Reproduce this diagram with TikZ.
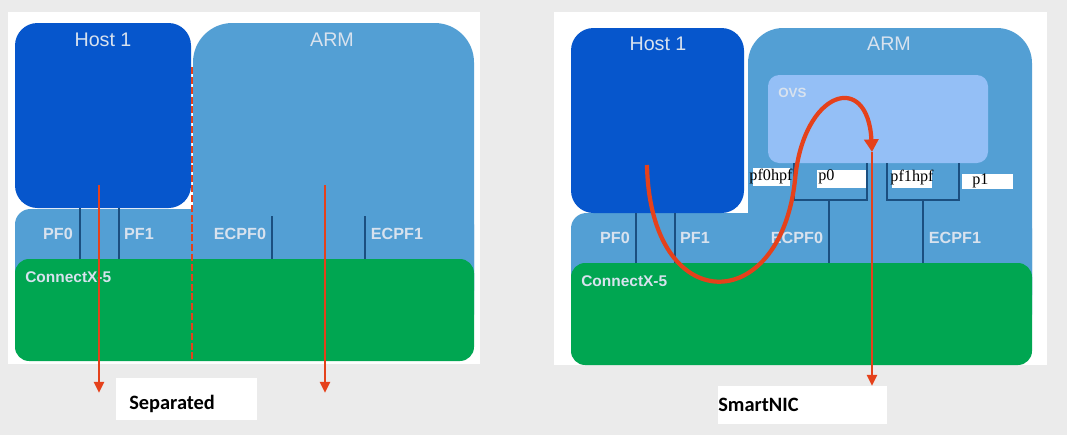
\documentclass[tikz,border=0pt]{standalone}
\usepackage{fontspec}
\setmainfont{Liberation Sans}
\newfontfamily\tagfont{Liberation Serif}
\newfontfamily\capfont{Carlito}
\usetikzlibrary{arrows.meta}

\definecolor{bggray}{HTML}{EBEBEB}
\definecolor{hostblue}{HTML}{0656CC}
\definecolor{armblue}{HTML}{539FD4}
\definecolor{ovsblue}{HTML}{94BFF6}
\definecolor{nicgreen}{HTML}{00A651}
\definecolor{portline}{HTML}{1B4F80}
\definecolor{flowred}{HTML}{E5411B}
\definecolor{softtext}{HTML}{D8E2EE}

\begin{document}
\begin{tikzpicture}[x=0.025cm, y=-0.025cm,
    title/.style = {text=softtext, font=\fontsize{14}{14}\selectfont},
    port/.style = {text=softtext, font=\bfseries\fontsize{11.5}{11.5}\selectfont},
    chip/.style = {text=softtext, font=\bfseries\fontsize{11}{11}\selectfont, anchor=west, inner sep=0pt},
    tag/.style = {font=\tagfont\fontsize{11.5}{11.5}\selectfont, inner sep=0pt},
    caption/.style = {font=\capfont\bfseries\fontsize{14.5}{14.5}\selectfont, anchor=west, inner sep=0pt},
    portwire/.style = {portline, line width=1.9pt},
    flow/.style = {flowred, line width=2pt, -{Triangle[length=8pt,width=7pt]}}]

    \useasboundingbox (0,0) rectangle (1067,435);
    \fill[bggray] (0,0) rectangle (1067,435);

    % left: separated
    \fill[white] (8,12) rectangle (480,364);
    \fill[armblue, rounded corners=11pt] (15,209) rectangle (474,330);
    \fill[armblue, rounded corners=28pt] (193,23) rectangle (474,330);
    \fill[hostblue, rounded corners=16pt] (15,23) rectangle (191,208);
    \fill[nicgreen, rounded corners=10pt] (15,259) rectangle (474,361);

    \draw[portwire] (80,208) -- (80,259);
    \draw[portwire] (119,208) -- (119,259);
    \draw[portwire] (272,216) -- (272,259);
    \draw[portwire] (365,216) -- (365,259);

    \node[title] (lhost) at (103,40) {Host 1};
    \node[title] (larm) at (332,40) {ARM};
    \node[port] (lpfa) at (58,234) {PF0};
    \node[port] (lpfb) at (139,234) {PF1};
    \node[port] (lecpfa) at (240,234) {ECPF0};
    \node[port] (lecpfb) at (397,234) {ECPF1};
    \node[chip] (lnic) at (25,277) {ConnectX-5};

    \draw[flowred, line width=1.8pt, dash pattern=on 5pt off 2pt] (192,67) -- (192,360);

    \coordinate (lhostout) at (99,185);
    \coordinate (lhostend) at (99,393);
    \coordinate (larmout) at (325,185);
    \coordinate (larmend) at (325,393);
    \draw[flow] (lhostout) -- (lhostend);
    \draw[flow] (larmout) -- (larmend);

    \fill[white] (116,378) rectangle (257,420);
    \node[caption] (lsep) at (129,404) {Separated};

    % right: smartnic
    \fill[white] (554,12) rectangle (1047,365);
    \fill[armblue, rounded corners=11pt] (571,213) rectangle (1032,330);
    \fill[armblue, rounded corners=25pt] (748,28) rectangle (1032,330);
    \fill[hostblue, rounded corners=16pt] (571,28) rectangle (744,213);
    \fill[nicgreen, rounded corners=10pt] (571,263) rectangle (1032,365);
    \fill[ovsblue, rounded corners=8pt] (768,75) rectangle (988,163);

    \draw[portwire] (636,213) -- (636,263);
    \draw[portwire] (675,213) -- (675,263);
    \draw[portwire] (829,200) -- (829,263);
    \draw[portwire] (923,200) -- (923,263);
    \draw[portwire] (794,163) -- (794,200) -- (867,200) -- (867,163);
    \draw[portwire] (887,163) -- (887,200) -- (959,200) -- (959,163);

    \node[title] (rhost) at (658,44) {Host 1};
    \node[title] (rarm) at (889,44) {ARM};
    \node[chip, font=\bfseries\fontsize{9.5}{9.5}\selectfont] (ovs) at (778,93) {OVS};
    \node[port] (rpfa) at (615,238) {PF0};
    \node[port] (rpfb) at (695,238) {PF1};
    \node[port] (recpfa) at (797,238) {ECPF0};
    \node[port] (recpfb) at (955,238) {ECPF1};
    \node[chip] (rnic) at (581,281) {ConnectX-5};

    \fill[white] (753,168) rectangle (790,186);
    \node[tag] (pfahpf) at (771,177) {pf0hpf};
    \fill[white] (817,170) rectangle (866,188);
    \node[tag, anchor=west] (pa) at (818,177) {p0};
    \fill[white] (892,170) rectangle (932,188);
    \node[tag] (pfbhpf) at (912,178) {pf1hpf};
    \fill[white] (962,174) rectangle (1013,189);
    \node[tag, anchor=west] (pb) at (972,181) {p1};

    \coordinate (hoststart) at (647,165);
    \coordinate (ovsturn) at (872,152);
    \coordinate (nicout) at (872,386);
    \draw[flowred, line width=3pt, -{Triangle[length=9pt,width=10pt]}]
        (hoststart) .. controls (650,318) and (780,318) .. (795,180)
        .. controls (803,90) and (868,70) .. (ovsturn);
    \draw[flow] (ovsturn) -- (nicout);

    \fill[white] (718,386) rectangle (887,424);
    \node[caption] (smart) at (718,405) {SmartNIC};

\end{tikzpicture}
\end{document}
